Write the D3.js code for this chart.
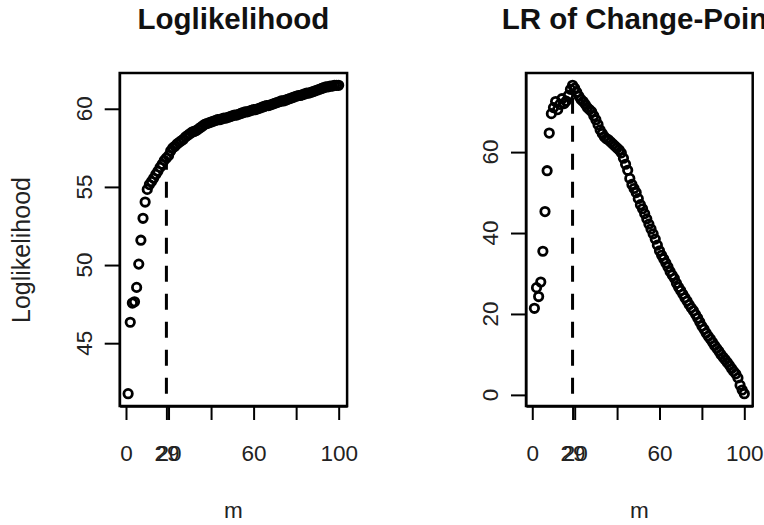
<html>
<head>
<meta charset="utf8">
<title>Loglikelihood and LR of Change-Point</title>
<script src="https://d3js.org/d3.v7.min.js"></script>
<style>
body { margin:0; background:white; }
text { font-family: "Liberation Sans", Arial, sans-serif; }
</style>
</head>
<body>
<div id="chart"></div>
<script>
var width = 764, height = 525;

// data
var m = d3.range(1, 101);
var loglik = [41.77, 46.34, 47.57, 47.65, 48.57, 50.06, 51.59, 52.99, 54.03, 54.84,
  55.15, 55.35, 55.55, 55.8, 56.0, 56.25, 56.45, 56.7, 56.85, 57.0,
  57.3, 57.5, 57.6, 57.75, 57.85, 57.95, 58.05, 58.2, 58.3, 58.4,
  58.5, 58.55, 58.6, 58.7, 58.8, 58.9, 59.0, 59.05, 59.1, 59.15,
  59.2, 59.25, 59.3, 59.3, 59.35, 59.4, 59.4, 59.45, 59.5, 59.55,
  59.6, 59.6, 59.65, 59.7, 59.75, 59.8, 59.8, 59.85, 59.9, 59.95,
  59.95, 60.0, 60.05, 60.1, 60.15, 60.2, 60.2, 60.25, 60.3, 60.35,
  60.4, 60.45, 60.5, 60.5, 60.55, 60.6, 60.65, 60.7, 60.75, 60.8,
  60.85, 60.85, 60.9, 60.95, 61.0, 61.0, 61.05, 61.1, 61.15, 61.2,
  61.25, 61.3, 61.35, 61.4, 61.4, 61.45, 61.45, 61.5, 61.5, 61.5];
var lr = [21.4, 26.5, 24.3, 27.9, 35.5, 45.3, 55.4, 64.7, 69.5, 71.0,
  72.5, 70.5, 71.8, 73.2, 72.0, 72.6, 74.0, 75.5, 76.5, 75.8,
  74.8, 73.8, 73.0, 72.5, 71.8, 71.0, 70.5, 70.0, 69.0, 68.0,
  66.8, 65.5, 64.6, 63.8, 63.3, 63.0, 62.5, 62.0, 61.5, 61.0,
  60.5, 59.8, 58.5, 57.0, 55.5, 53.5, 52.0, 51.0, 50.0, 48.5,
  47.0, 46.0, 44.8, 43.5, 42.2, 41.0, 39.8, 38.5, 37.0, 35.6,
  34.5, 33.6, 32.6, 31.6, 30.5, 29.6, 28.8, 27.6, 26.6, 25.8,
  24.9, 24.0, 23.2, 22.3, 21.5, 20.8, 19.9, 19.0, 18.0, 17.0,
  16.2, 15.3, 14.5, 13.8, 13.0, 12.2, 11.5, 10.8, 10.0, 9.3,
  8.7, 8.0, 7.3, 6.5, 5.8, 5.2, 4.2, 2.4, 1.2, 0.3];
var cpIndex = 19;   // position of the dashed line
var cpLabel = "29";
var xTicks = [0, 20, 40, 60, 80, 100];
var xTickLabels = ["0", "20", "", "60", "", "100"];
var llTicks = [45, 50, 55, 60];
var lrTicks = [0, 20, 40, 60];

var svg = d3.select("#chart").append("svg")
    .attr("width", width)
    .attr("height", height);

function pad(ext) {
  var d = (ext[1] - ext[0]) * 0.04;
  return [ext[0] - d, ext[1] + d];
}

function panel(p) {
  var x = d3.scaleLinear().domain(pad(d3.extent(m))).range([p.left, p.right]);
  var y = d3.scaleLinear().domain(pad(d3.extent(p.values))).range([p.bottom, p.top]);

  // title
  svg.append("text")
      .attr("x", (p.left + p.right) / 2)
      .attr("y", 29)
      .attr("text-anchor", "middle")
      .attr("font-size", 29.5)
      .attr("font-weight", "bold")
      .attr("fill", "#111")
      .text(p.title);

  // x axis
  var xAxis = svg.append("g")
      .attr("transform", "translate(0," + p.bottom + ")")
      .call(d3.axisBottom(x).tickValues(xTicks).tickSize(14).tickSizeOuter(0)
        .tickPadding(25).tickFormat(function (d, i) { return xTickLabels[i]; }));
  var cpAxis = svg.append("g")
      .attr("transform", "translate(0," + p.bottom + ")")
      .call(d3.axisBottom(x).tickValues([cpIndex]).tickSize(14).tickSizeOuter(0)
        .tickPadding(25).tickFormat(function () { return cpLabel; }));
  [xAxis, cpAxis].forEach(function (g) {
    g.selectAll("path,line").attr("stroke", "#000").attr("stroke-width", 2);
    g.selectAll("text").attr("font-size", 22.5).attr("fill", "#222")
        .attr("font-family", "Liberation Sans, Arial, sans-serif");
  });

  // y axis
  var yAxis = svg.append("g")
      .attr("transform", "translate(" + p.left + ",0)")
      .call(d3.axisLeft(y).tickValues(p.ticks).tickSize(15).tickSizeOuter(0)
        .tickFormat(""));
  yAxis.selectAll("path,line").attr("stroke", "#000").attr("stroke-width", 2);
  p.ticks.forEach(function (t) {
    var lx = p.left - 28, ly = y(t);
    svg.append("text")
        .attr("x", lx)
        .attr("y", ly)
        .attr("transform", "rotate(-90," + lx + "," + ly + ")")
        .attr("text-anchor", "middle")
        .attr("font-size", 22.5)
        .attr("fill", "#222")
        .text(t);
  });

  // axis titles
  svg.append("text")
      .attr("x", (p.left + p.right) / 2)
      .attr("y", 518)
      .attr("text-anchor", "middle")
      .attr("font-size", 22.5)
      .attr("fill", "#222")
      .text("m");
  if (p.ylab) {
    svg.append("text")
        .attr("x", 30)
        .attr("y", 250)
        .attr("transform", "rotate(-90,30,250)")
        .attr("text-anchor", "middle")
        .attr("font-size", 25)
        .attr("fill", "#222")
        .text(p.ylab);
  }

  // dashed change-point line
  svg.append("line")
      .attr("x1", x(cpIndex))
      .attr("x2", x(cpIndex))
      .attr("y1", y(d3.min(p.values)))
      .attr("y2", y(p.values[cpIndex - 1]))
      .attr("stroke", "#000")
      .attr("stroke-width", 3)
      .attr("stroke-dasharray", "16,12");

  // points
  svg.append("g").selectAll("circle")
      .data(p.values)
      .join("circle")
      .attr("cx", function (d, i) { return x(m[i]); })
      .attr("cy", function (d) { return y(d); })
      .attr("r", 4.2)
      .attr("fill", "none")
      .attr("stroke", "#000")
      .attr("stroke-width", 2.8);

  // box
  svg.append("rect")
      .attr("x", p.left)
      .attr("y", p.top)
      .attr("width", p.right - p.left)
      .attr("height", p.bottom - p.top)
      .attr("fill", "none")
      .attr("stroke", "#000")
      .attr("stroke-width", 2.5);
}

panel({ left: 119.7, right: 347.1, top: 73, bottom: 406,
  values: loglik, ticks: llTicks, title: "Loglikelihood", ylab: "Loglikelihood" });
panel({ left: 526, right: 752.7, top: 73, bottom: 406,
  values: lr, ticks: lrTicks, title: "LR of Change-Point", ylab: "" });
</script>
</body>
</html>
